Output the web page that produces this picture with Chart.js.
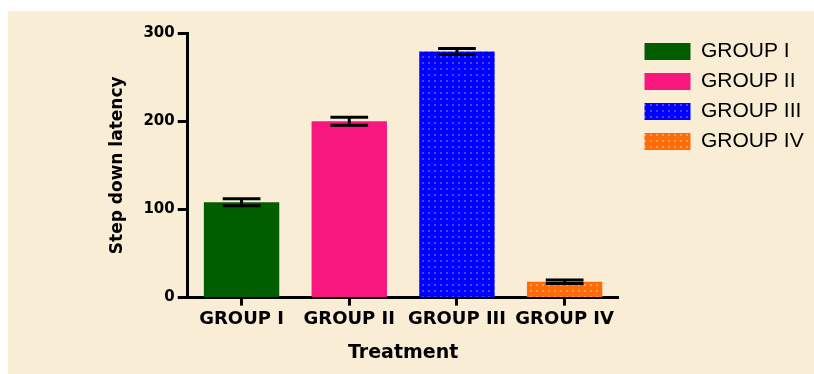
<!DOCTYPE html>
<html>
<head>
<meta charset="utf-8">
<script src="https://cdn.jsdelivr.net/npm/chart.js@4/dist/chart.umd.min.js"></script>
<style>
  html, body { margin: 0; padding: 0; background: #ffffff; }
  #wrap { width: 814px; height: 374px; position: relative; }
</style>
</head>
<body>
<div id="wrap"><canvas id="chart"></canvas></div>
<script>
// Step-down latency by treatment group (mean ± SEM)
const categories = ['GROUP I', 'GROUP II', 'GROUP III', 'GROUP IV'];
const latency = [108, 200, 279, 18];
const sem = [4, 4.5, 3.5, 2];
const yTicks = [0, 100, 200, 300];

const baseColors = ['#005E00', '#F8177F', '#0000FF', '#FF6A0A'];

// Dotted fill for the hatched groups
function dotPattern(base, dot) {
  const c = document.createElement('canvas');
  c.width = 6; c.height = 6;
  const g = c.getContext('2d');
  g.fillStyle = base; g.fillRect(0, 0, 6, 6);
  g.fillStyle = dot; g.fillRect(2, 2, 2, 2);
  return g.createPattern(c, 'repeat');
}
const fills = [
  baseColors[0],
  baseColors[1],
  dotPattern(baseColors[2], '#4646FF'),
  dotPattern(baseColors[3], '#FFA24A')
];

const pageBackground = {
  id: 'pageBackground',
  beforeDraw(chart) {
    const ctx = chart.ctx;
    ctx.save();
    ctx.fillStyle = '#ffffff';
    ctx.fillRect(0, 0, chart.width, chart.height);
    ctx.fillStyle = '#F9EDD5';
    ctx.fillRect(8, 11, chart.width - 8, chart.height - 11);
    ctx.restore();
  }
};

const errorBars = {
  id: 'errorBars',
  afterDatasetsDraw(chart) {
    const meta = chart.getDatasetMeta(0);
    const y = chart.scales.y;
    const ctx = chart.ctx;
    ctx.save();
    ctx.strokeStyle = '#000';
    ctx.lineWidth = 3;
    meta.data.forEach((bar, i) => {
      const hi = y.getPixelForValue(latency[i] + sem[i]);
      const lo = y.getPixelForValue(latency[i] - sem[i]);
      const half = bar.width * 0.25;
      ctx.beginPath();
      ctx.moveTo(bar.x, hi); ctx.lineTo(bar.x, lo);
      ctx.moveTo(bar.x - half, hi); ctx.lineTo(bar.x + half, hi);
      ctx.moveTo(bar.x - half, lo); ctx.lineTo(bar.x + half, lo);
      ctx.stroke();
    });
    ctx.restore();
  }
};

// Leave a gap between the plot and the legend column
const legendOffset = {
  id: 'legendOffset',
  afterLayout(chart) {
    if (chart.legend) {
      chart.legend.left += 17;
      chart.legend.right += 17;
      chart.legend.top -= 1;
    }
  }
};

new Chart(document.getElementById('chart'), {
  type: 'bar',
  data: {
    labels: categories,
    datasets: [{
      data: latency,
      backgroundColor: fills,
      borderWidth: 0,
      barPercentage: 0.7,
      categoryPercentage: 1.0
    }]
  },
  options: {
    responsive: true,
    maintainAspectRatio: false,
    animation: false,
    layout: { padding: { left: 107, right: 25, top: 33, bottom: 10 } },
    plugins: {
      tooltip: { enabled: false },
      legend: {
        position: 'right',
        align: 'start',
        labels: {
          boxWidth: 46,
          boxHeight: 17,
          padding: 9,
          color: '#000',
          font: { family: 'Arial, "Liberation Sans", sans-serif', size: 21 },
          generateLabels: () => categories.map((c, i) => ({
            text: c,
            fillStyle: fills[i],
            strokeStyle: fills[i],
            lineWidth: 0,
            hidden: false,
            index: i
          }))
        }
      }
    },
    scales: {
      x: {
        offset: true,
        grid: {
          display: true, drawOnChartArea: false, drawTicks: true,
          offset: false, tickLength: 8, tickWidth: 3, tickColor: '#000'
        },
        border: { display: true, width: 3, color: '#000' },
        ticks: {
          color: '#000', padding: 3, maxRotation: 0,
          font: { family: '"DejaVu Sans", sans-serif', size: 18, weight: 'bold' }
        },
        title: {
          display: true, text: 'Treatment', color: '#000',
          padding: { top: 8, bottom: 0 },
          font: { family: '"DejaVu Sans", sans-serif', size: 19, weight: 'bold' }
        }
      },
      y: {
        min: 0, max: 300,
        afterBuildTicks(axis) { axis.ticks = yTicks.map(v => ({ value: v })); },
        grid: {
          display: true, drawOnChartArea: false, drawTicks: true,
          tickLength: 10, tickWidth: 3, tickColor: '#000'
        },
        border: { display: true, width: 3, color: '#000' },
        ticks: {
          color: '#000', padding: 3,
          font: { family: '"DejaVu Sans", sans-serif', size: 15, weight: 'bold' }
        },
        title: {
          display: true, text: 'Step down latency', color: '#000',
          padding: { top: 0, bottom: 13 },
          font: { family: '"DejaVu Sans", sans-serif', size: 17, weight: 'bold' }
        }
      }
    }
  },
  plugins: [pageBackground, errorBars, legendOffset]
});
</script>
</body>
</html>
